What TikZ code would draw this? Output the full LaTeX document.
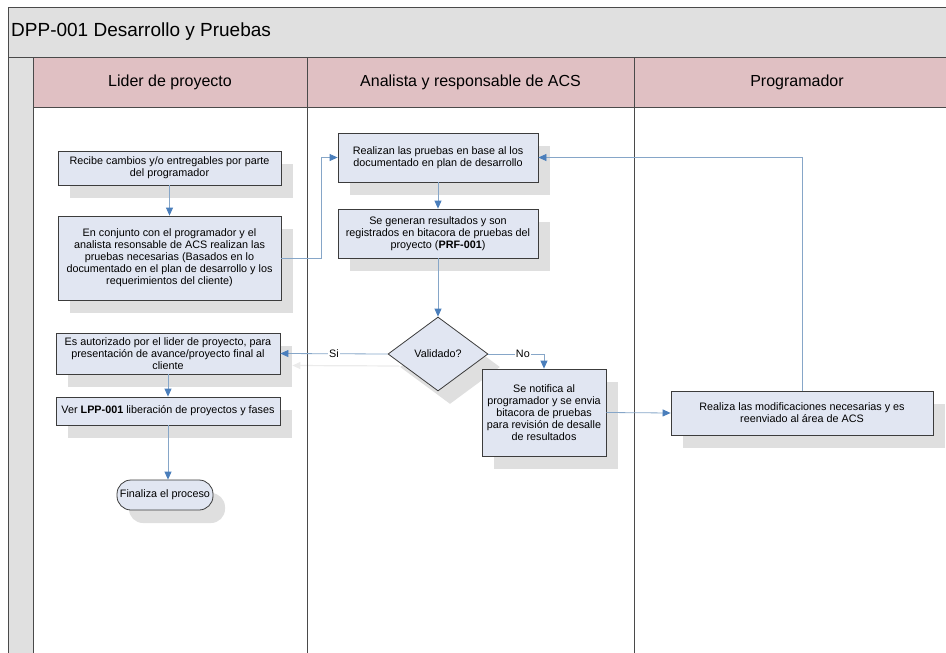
\documentclass[tikz,border=0pt]{standalone}
\usepackage{fontspec}
\setmainfont{Liberation Sans}
\usetikzlibrary{arrows.meta,shapes.geometric,shadows,backgrounds}
\definecolor{bandgray}{HTML}{E0E0E0}
\definecolor{lanepink}{HTML}{E0C0C3}
\definecolor{boxfill}{HTML}{E1E6F2}
\definecolor{boxline}{HTML}{3C3C3C}
\definecolor{shadegray}{HTML}{DFDFDF}
\definecolor{linkline}{HTML}{86A6C8}
\definecolor{linkhead}{HTML}{4A7EBB}
\definecolor{frameline}{HTML}{4A4A4A}
\definecolor{faintline}{HTML}{EBEBEB}

\begin{document}
\begin{tikzpicture}[x=1pt,y=-1pt,
  boxshade/.style={drop shadow={shadow xshift=12pt,shadow yshift=-13pt,fill=shadegray,opacity=1,draw=none}},
  boxtext/.style={font=\fontsize{10.8}{12}\selectfont},
  task/.style={draw=boxline,fill=boxfill,line width=0.8pt,inner sep=0pt,align=center,boxtext,boxshade},
  decision/.style={diamond,draw=boxline,fill=boxfill,line width=0.8pt,inner sep=0pt,boxtext,boxshade},
  terminal/.style={draw=boxline,fill=boxfill,line width=0.8pt,inner sep=0pt,rounded corners=14pt,boxtext,boxshade},
  link/.style={draw=linkline,line width=0.8pt,-{Triangle[length=8pt,width=7pt,color=linkhead]}},
  linkshade/.style={draw=faintline,line width=1.2pt,-{Triangle[length=8pt,width=7pt,color=faintline]}},
  linklabel/.style={fill=white,inner sep=1pt,boxtext},
  lanetitle/.style={font=\fontsize{16}{19}\selectfont},
  laneline/.style={draw=frameline,line width=0.9pt}]

\useasboundingbox (0,0) rectangle (946,653);

% pool frame, title band and swimlanes
\begin{scope}
  \clip (0,0) rectangle (946,653);
  \fill[bandgray] (8,7) rectangle (980,57);
  \fill[bandgray] (8,57) rectangle (33,700);
  \fill[lanepink] (33,57) rectangle (980,107);
  \draw[laneline] (8,700) -- (8,7) -- (980,7);
  \draw[laneline] (8,57) -- (980,57);
  \draw[laneline] (33,107) -- (980,107);
  \draw[laneline] (33,57) -- (33,700);
  \draw[laneline] (307,57) -- (307,700);
  \draw[laneline] (634,57) -- (634,700);
\end{scope}

\node[anchor=west,font=\fontsize{19}{22}\selectfont,inner sep=0pt] (title) at (11,32) {DPP-001 Desarrollo y Pruebas};
\node[lanetitle] (lane1) at (170,82) {Lider de proyecto};
\node[lanetitle] (lane2) at (470.5,82) {Analista y responsable de ACS};
\node[lanetitle] (lane3) at (797,82) {Programador};

% process steps
\node[task,minimum width=223pt,minimum height=34pt] (b1) at (169.5,168)
  {Recibe cambios y/o entregables por parte\\del programador};
\node[task,minimum width=223pt,minimum height=84pt] (b2) at (169.5,258)
  {En conjunto con el programador y el\\analista resonsable de ACS realizan las\\pruebas necesarias (Basados en lo\\documentado en el plan de desarrollo y los\\requerimientos del cliente)};
\node[task,minimum width=200pt,minimum height=49pt] (b3) at (438,157.5)
  {Realizan las pruebas en base al los\\documentado en plan de desarrollo};
\node[task,minimum width=200pt,minimum height=49pt] (b4) at (438,233.5)
  {Se generan resultados y son\\registrados en bitacora de pruebas del\\proyecto (\textbf{PRF-001})};
\node[decision,minimum width=100pt,minimum height=74pt] (d) at (438,354) {Validado?};
\node[task,minimum width=224pt,minimum height=41pt] (b5) at (168,353.5)
  {Es autorizado por el lider de proyecto, para\\presentación de avance/proyecto final al\\cliente};
\node[task,minimum width=224pt,minimum height=28pt] (b6) at (168,411)
  {Ver \textbf{LPP-001} liberación de proyectos y fases};
\node[terminal,minimum width=96pt,minimum height=30pt] (fin) at (165,495)
  {Finaliza el proceso};
\node[task,minimum width=124pt,minimum height=87pt] (b7) at (544,412.5)
  {Se notifica al\\programador y se envia\\bitacora de pruebas\\para revisión de desalle\\de resultados};
\node[task,minimum width=262pt,minimum height=44pt] (b8) at (802,413)
  {Realiza las modificaciones necesarias y es\\reenviado al área de ACS};

% faint shadow of the "Si" connector
\begin{scope}[on background layer]
  \draw[linkshade] ([shift={(12,12)}]d.west) -- ([shift={(12,12)}]b5.east);
\end{scope}

% connectors
\draw[link] (b1) -- (b2);
\draw[link] (b2.east) -- ++(40,0) |- (b3.west);
\draw[link] (b3) -- (b4);
\draw[link] (b4) -- (d);
\draw[link] (d.west) -- node[linklabel] {Si} (b5.east);
\draw[link] (d.east) -| node[linklabel,pos=0.31] {No} (b7.north);
\draw[link] (b7.east) -- (b8.west);
\draw[link] (b8.north) |- (b3.east);
\draw[link] (b5) -- (b6);
\draw[link] (b6.south) -- (b6.south |- fin.north);

\end{tikzpicture}
\end{document}
